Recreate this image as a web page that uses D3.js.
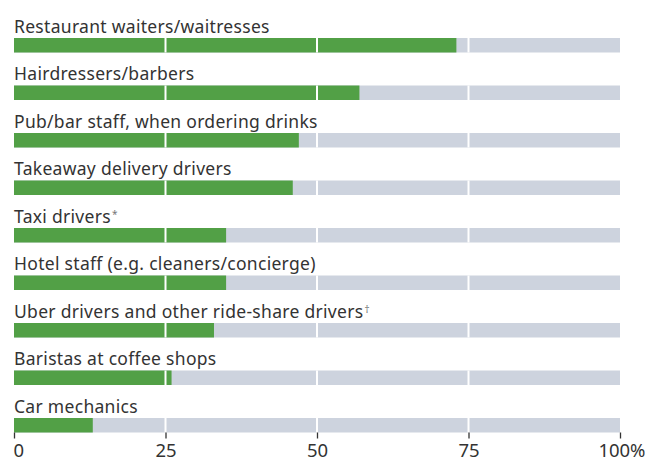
<html>
<head>
  <script src="https://d3js.org/d3.v7.min.js"></script>
  <style>
    html, body { margin:0; padding:0; background:#fff; }
    text { font-family: "Noto Sans", sans-serif; fill:#333; }
  </style>
</head>
<body>
<div id="chart"></div>
<script>
  var categories = [
    "Restaurant waiters/waitresses",
    "Hairdressers/barbers",
    "Pub/bar staff, when ordering drinks",
    "Takeaway delivery drivers",
    "Taxi drivers",
    "Hotel staff (e.g. cleaners/concierge)",
    "Uber drivers and other ride-share drivers",
    "Baristas at coffee shops",
    "Car mechanics"
  ];
  var marks = ["", "", "", "", "*", "", "\u2020", "", ""];
  var values = [73, 57, 47, 46, 35, 35, 33, 26, 13];
  var tickValues = [0, 25, 50, 75, 100];
  var tickLabels = ["0", "25", "50", "75", "100%"];

  var W = 645, H = 464;
  var svg = d3.select("#chart").append("svg").attr("width", W).attr("height", H);

  var x = d3.scaleLinear().domain([0, 100]).range([14, 620]);
  // y(d) gives the top of each bar, rows 47.5px apart
  var y = d3.scaleBand().domain(categories).range([38, 38 + 47.5 * categories.length]);
  var barH = 14.5;

  var rows = svg.selectAll("g.row").data(categories).enter().append("g").attr("class", "row");

  rows.append("rect")
    .attr("x", x(0)).attr("width", x(100) - x(0))
    .attr("y", function(d) { return y(d); }).attr("height", barH)
    .attr("fill", "#cdd3de");

  rows.append("rect")
    .attr("x", x(0)).attr("width", function(d, i) { return x(values[i]) - x(0); })
    .attr("y", function(d) { return y(d); }).attr("height", barH)
    .attr("fill", "#52a046");

  var lab = rows.append("text")
    .attr("x", x(0))
    .attr("y", function(d) { return y(d) - 5.2; })
    .style("font-size", "17.5px")
    .style("letter-spacing", "0.3px");
  lab.append("tspan").text(function(d) { return d; });
  lab.append("tspan").attr("dy", -5).attr("dx", 1).style("font-size", "10px").style("fill", "#777")
    .text(function(d, i) { return marks[i]; });

  // white gridlines over bars
  rows.each(function(d) {
    d3.select(this).selectAll("line.grid").data([25, 50, 75]).enter().append("line")
      .attr("x1", function(v) { return x(v); }).attr("x2", function(v) { return x(v); })
      .attr("y1", y(d)).attr("y2", y(d) + barH)
      .attr("stroke", "#fff").attr("stroke-width", 2);
  });

  var last = categories[categories.length - 1];
  var axisY = y(last) + barH;
  var axis = d3.axisBottom(x).tickValues(tickValues)
    .tickFormat(function(d, i) { return tickLabels[i]; })
    .tickSize(6).tickPadding(5);
  var ag = svg.append("g").attr("transform", "translate(0," + axisY + ")").call(axis);
  ag.select(".domain").remove();
  ag.selectAll(".tick line").attr("stroke", "#333").attr("stroke-width", 1.3);
  ag.selectAll(".tick text").style("font-size", "18.5px").style("font-family", "Noto Sans, sans-serif").attr("fill", "#333");
  ag.selectAll(".tick text").filter(function(d) { return d === 0; }).attr("text-anchor", "start").attr("dx", -1);
  ag.selectAll(".tick text").filter(function(d) { return d === 100; }).attr("text-anchor", "end").attr("dx", 25);
</script>
</body>
</html>
